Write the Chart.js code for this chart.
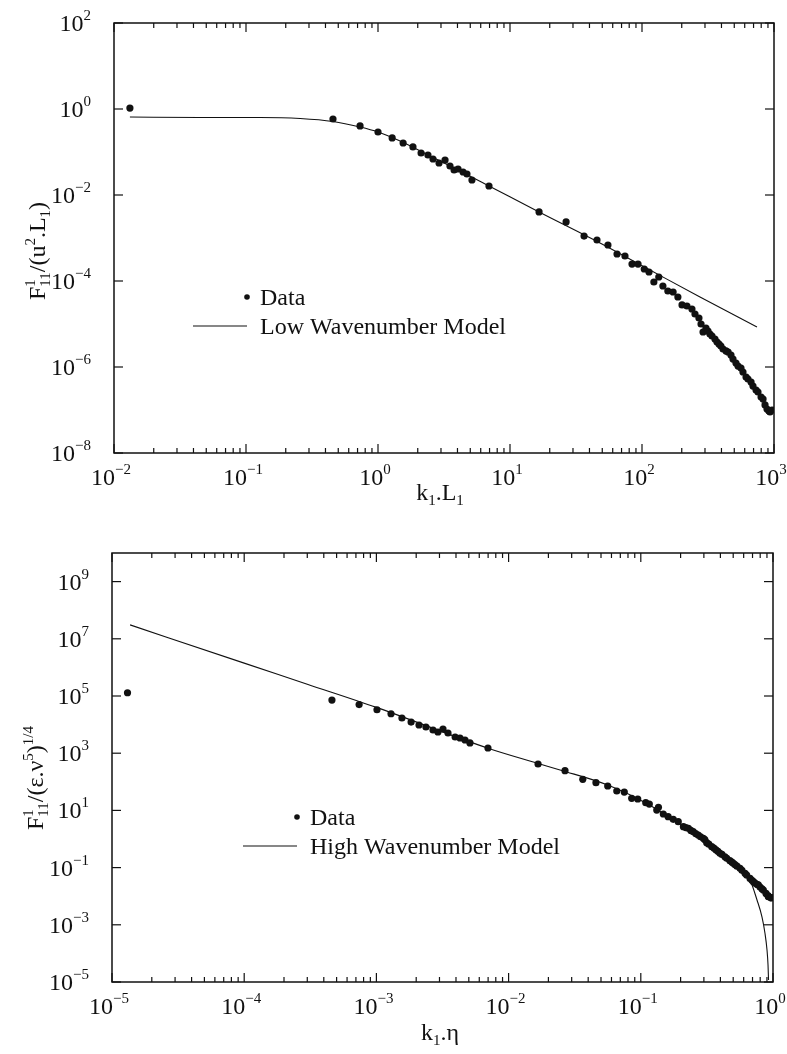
<!DOCTYPE html>
<html>
<head>
<meta charset="utf-8">
<script src="https://cdn.jsdelivr.net/npm/chart.js@4.4.0/dist/chart.umd.min.js"></script>
<style>
  html, body { margin: 0; padding: 0; background: #fff; }
  #wrap { position: relative; width: 787px; height: 1054px; }
  canvas { position: absolute; left: 0; }
  #low { top: 0; }
  #high { top: 505px; }
</style>
</head>
<body>
<div id="wrap">
  <canvas id="low" width="787" height="505"></canvas>
  <canvas id="high" width="787" height="549"></canvas>
</div>
<script>
// one-dimensional spectrum, scaled on integral scale (low) and Kolmogorov scale (high)
const kL1 = [0.0132, 0.456, 0.731, 1.0, 1.28, 1.55, 1.84, 2.12, 2.39, 2.61, 2.90, 3.22, 3.51, 3.77, 4.04, 4.41,
  4.72, 5.15, 6.93, 16.6, 26.6, 36.4, 45.6, 55.2, 64.7, 74.3, 84.0, 93.3, 104, 113, 123, 134, 144, 157, 172,
  187, 201, 219, 239, 252, 270, 280, 290, 305, 316, 327, 339, 357, 370, 383, 396, 411, 433, 449, 472, 489,
  515, 534, 562, 582, 614, 635, 670, 693, 731, 756, 798, 826, 855, 885, 916, 933, 966];
const lowData = [1.05, 0.585, 0.403, 0.292, 0.212, 0.162, 0.131, 0.0948, 0.0851, 0.0687, 0.0555, 0.0652, 0.0472,
  0.0381, 0.0402, 0.0343, 0.0308, 0.0223, 0.0162, 4.03e-3, 2.36e-3, 1.11e-3, 8.98e-4, 6.87e-4, 4.25e-4, 3.81e-4,
  2.48e-4, 2.48e-4, 1.90e-4, 1.62e-4, 9.48e-5, 1.24e-4, 7.66e-5, 5.85e-5, 5.55e-5, 4.25e-5, 2.77e-5, 2.62e-5,
  2.23e-5, 1.71e-5, 1.38e-5, 1.0e-5, 6.52e-6, 8.07e-6, 6.87e-6, 5.85e-6, 5.26e-6, 4.48e-6, 3.81e-6, 3.43e-6,
  3.08e-6, 2.62e-6, 2.36e-6, 2.23e-6, 1.90e-6, 1.53e-6, 1.24e-6, 1.05e-6, 9.48e-7, 7.65e-7, 5.85e-7, 5.26e-7,
  4.48e-7, 3.61e-7, 2.92e-7, 2.62e-7, 2.00e-7, 1.80e-7, 1.31e-7, 1.05e-7, 9.48e-8, 8.98e-8, 1.0e-7];
const kL1Model = [0.0132, 0.0449, 0.128, 0.257, 0.456, 0.731, 1.0, 1.47, 2.48, 4.18, 6.93, 16.6, 48.1, 115, 275, 743];
const lowModel = [0.652, 0.634, 0.634, 0.601, 0.512, 0.381, 0.292, 0.180, 0.0807, 0.0361, 0.0162, 4.03e-3,
  7.66e-4, 1.80e-4, 4.25e-5, 8.51e-6];

const kEta = [1.31e-5, 4.61e-4, 7.4e-4, 1.01e-3, 1.29e-3, 1.56e-3, 1.83e-3, 2.10e-3, 2.37e-3, 2.68e-3, 2.92e-3,
  3.19e-3, 3.48e-3, 3.94e-3, 4.29e-3, 4.68e-3, 5.10e-3, 6.98e-3, 1.67e-2, 2.67e-2, 3.64e-2, 4.58e-2, 5.62e-2,
  6.58e-2, 7.50e-2, 8.53e-2, 9.48e-2, 0.109, 0.116, 0.132, 0.136, 0.148, 0.161, 0.176, 0.192, 0.210, 0.219,
  0.229, 0.239, 0.249, 0.260, 0.272, 0.283, 0.297, 0.305, 0.315, 0.327, 0.344, 0.357, 0.370, 0.383, 0.397,
  0.411, 0.433, 0.447, 0.472, 0.489, 0.501, 0.515, 0.534, 0.563, 0.582, 0.614, 0.632, 0.670, 0.693, 0.710,
  0.731, 0.756, 0.774, 0.798, 0.826, 0.845, 0.885, 0.916, 0.923, 0.933, 0.966, 0.978];
const highData = [1.30e5, 7.2e4, 5.0e4, 3.3e4, 2.4e4, 1.70e4, 1.23e4, 9.69e3, 8.24e3, 6.47e3, 5.51e3, 7.02e3,
  5.08e3, 3.68e3, 3.40e3, 2.90e3, 2.28e3, 1.52e3, 419, 244, 122, 93.1, 71.3, 47.6, 43.9, 26.5, 25.0, 18.6, 16.7,
  10.3, 12.8, 7.48, 6.03, 4.89, 4.03, 2.69, 2.5, 2.37, 2.0, 1.80, 1.55, 1.38, 1.2, 1.06, 0.95, 0.743, 0.66, 0.538,
  0.48, 0.42, 0.37, 0.316, 0.29, 0.24, 0.211, 0.175, 0.155, 0.141, 0.128, 0.112, 0.0946, 0.080, 0.063, 0.0551,
  0.042, 0.036, 0.0321, 0.029, 0.026, 0.0247, 0.021, 0.018, 0.0165, 0.0125, 0.0105, 9.62e-3, 9.5e-3, 8.8e-3, 8.87e-3];
const kEtaModel = [1.37e-5, 1.0e-4, 3.0e-4, 1.0e-3, 6.98e-3, 1.7e-2, 2.45e-2, 5.62e-2, 0.109, 0.210, 0.315,
  0.447, 0.563, 0.632, 0.670, 0.757, 0.826, 0.869, 0.901, 0.917, 0.925];
const highModel = [3.07e7, 1.41e6, 2.58e5, 4.0e4, 1.5e3, 430, 259, 77, 18.2, 2.85, 0.785, 0.235, 0.097, 0.0508,
  0.0368, 7.36e-3, 1.87e-3, 5.17e-4, 1.31e-4, 3.93e-5, 1.17e-5];

// decade exponents that get a tick and a label
const lowXTicks = [-2, -1, 0, 1, 2, 3];
const lowYTicks = [-8, -6, -4, -2, 0, 2];
const highXTicks = [-5, -4, -3, -2, -1, 0];
const highYTicks = [-5, -3, -1, 1, 3, 5, 7, 9];

const SERIF = "'Liberation Serif', 'Times New Roman', serif";
const INK = '#111';

function pairs(xs, ys) {
  return xs.map((x, i) => ({ x: x, y: ys[i] }));
}

// "10" with a raised exponent, anchored on (x, y) = label centre
function drawPow(ctx, e, x, y, align) {
  const base = '10';
  const sup = e < 0 ? '\u2212' + (-e) : String(e);
  ctx.font = '24px ' + SERIF;
  const wb = ctx.measureText(base).width;
  ctx.font = '15px ' + SERIF;
  const ws = ctx.measureText(sup).width;
  let left;
  if (align === 'right') left = x - wb - ws;
  else left = x - (wb + ws) / 2 - 3;
  ctx.textAlign = 'left';
  ctx.textBaseline = 'alphabetic';
  ctx.font = '24px ' + SERIF;
  ctx.fillText(base, left, y + 8);
  ctx.font = '15px ' + SERIF;
  ctx.fillText(sup, left + wb, y - 3);
}

// text with sub/superscripts; parts = [text, kind] or {sup, sub}
function richWidth(ctx, parts, size) {
  let w = 0;
  parts.forEach(p => {
    if (Array.isArray(p)) {
      ctx.font = (p[1] ? Math.round(size * 0.62) : size) + 'px ' + SERIF;
      w += ctx.measureText(p[0]).width;
    } else {
      ctx.font = Math.round(size * 0.62) + 'px ' + SERIF;
      w += Math.max(ctx.measureText(p.sup).width, ctx.measureText(p.sub).width);
    }
  });
  return w;
}

function drawRich(ctx, parts, cx, baseY, size) {
  let x = cx - richWidth(ctx, parts, size) / 2;
  const small = Math.round(size * 0.62) + 'px ' + SERIF;
  ctx.textAlign = 'left';
  ctx.textBaseline = 'alphabetic';
  parts.forEach(p => {
    if (Array.isArray(p)) {
      const [t, kind] = p;
      if (!kind) {
        ctx.font = size + 'px ' + SERIF;
        ctx.fillText(t, x, baseY);
      } else {
        ctx.font = small;
        ctx.fillText(t, x, kind === 'sup' ? baseY - size * 0.42 : baseY + size * 0.22);
      }
      x += ctx.measureText(t).width;
    } else {
      ctx.font = small;
      ctx.fillText(p.sup, x, baseY - size * 0.42);
      ctx.fillText(p.sub, x, baseY + size * 0.22);
      x += Math.max(ctx.measureText(p.sup).width, ctx.measureText(p.sub).width);
    }
  });
}

function seg(ctx, x1, y1, x2, y2) {
  ctx.beginPath();
  ctx.moveTo(x1, y1);
  ctx.lineTo(x2, y2);
  ctx.stroke();
}

// box, inward ticks, labels, axis titles and the key
const framePlugin = {
  id: 'frame',
  afterDraw(chart, args, o) {
    const { ctx, chartArea: a, scales: { x, y } } = chart;
    ctx.save();
    ctx.strokeStyle = INK;
    ctx.fillStyle = INK;

    ctx.lineWidth = 1.5;
    ctx.strokeRect(a.left, a.top, a.right - a.left, a.bottom - a.top);

    ctx.lineWidth = 1.2;
    const xLo = o.xTicks[0], xHi = o.xTicks[o.xTicks.length - 1];
    for (let e = xLo; e <= xHi; e++) {
      for (let m = 1; m <= 9; m++) {
        if (e === xHi && m > 1) break;
        const px = x.getPixelForValue(m * Math.pow(10, e));
        const len = m === 1 ? 9 : 5;
        seg(ctx, px, a.bottom, px, a.bottom - len);
        seg(ctx, px, a.top, px, a.top + len);
      }
    }
    o.yTicks.forEach(e => {
      const py = y.getPixelForValue(Math.pow(10, e));
      seg(ctx, a.left, py, a.left + 9, py);
      seg(ctx, a.right, py, a.right - 9, py);
    });

    o.xTicks.forEach(e => drawPow(ctx, e, x.getPixelForValue(Math.pow(10, e)), a.bottom + 24, 'center'));
    o.yTicks.forEach(e => drawPow(ctx, e, a.left - 23, y.getPixelForValue(Math.pow(10, e)), 'right'));

    drawRich(ctx, o.xTitle, o.xTitlePos[0], o.xTitlePos[1], 24);
    ctx.save();
    ctx.translate(o.yTitlePos[0], o.yTitlePos[1]);
    ctx.rotate(-Math.PI / 2);
    drawRich(ctx, o.yTitle, 0, 0, 24);
    ctx.restore();

    // key
    const k = o.key;
    ctx.beginPath();
    ctx.arc(k.x - 13, k.y, 2.8, 0, Math.PI * 2);
    ctx.fill();
    ctx.lineWidth = 1.1;
    seg(ctx, k.x - 67, k.y + 29, k.x - 13, k.y + 29);
    ctx.font = '24px ' + SERIF;
    ctx.textAlign = 'left';
    ctx.textBaseline = 'alphabetic';
    ctx.fillText('Data', k.x, k.y + 8);
    ctx.fillText(o.modelLabel, k.x, k.y + 37);
    ctx.restore();
  }
};

function spectrumChart(id, pts, model, o) {
  return new Chart(document.getElementById(id), {
    type: 'scatter',
    data: {
      datasets: [
        {
          label: 'Data',
          data: pts,
          pointRadius: 3.6,
          pointBackgroundColor: INK,
          pointBorderColor: INK,
          pointBorderWidth: 0,
          showLine: false
        },
        {
          type: 'line',
          label: o.modelLabel,
          data: model,
          borderColor: INK,
          borderWidth: 1.1,
          pointRadius: 0,
          fill: false,
          cubicInterpolationMode: 'monotone'
        }
      ]
    },
    options: {
      responsive: false,
      animation: false,
      devicePixelRatio: 1,
      layout: { padding: o.pad },
      scales: {
        x: { type: 'logarithmic', min: Math.pow(10, o.xTicks[0]), max: Math.pow(10, o.xTicks[o.xTicks.length - 1]), display: false },
        y: { type: 'logarithmic', min: Math.pow(10, o.yMin), max: Math.pow(10, o.yMax), display: false }
      },
      plugins: {
        legend: { display: false },
        tooltip: { enabled: false },
        frame: o
      }
    },
    plugins: [framePlugin]
  });
}

spectrumChart('low', pairs(kL1, lowData), pairs(kL1Model, lowModel), {
  pad: { left: 114, top: 23, right: 13, bottom: 52 },
  xTicks: lowXTicks,
  yTicks: lowYTicks,
  yMin: -8,
  yMax: 2,
  modelLabel: 'Low Wavenumber Model',
  key: { x: 260, y: 297 },
  xTitle: [['k'], ['1', 'sub'], ['.L'], ['1', 'sub']],
  xTitlePos: [440, 500],
  yTitle: [['F'], { sup: '1', sub: '11' }, ['/(u'], ['2', 'sup'], ['.L'], ['1', 'sub'], [')']],
  yTitlePos: [45, 251]
});

spectrumChart('high', pairs(kEta, highData), pairs(kEtaModel, highModel), {
  pad: { left: 112, top: 48, right: 14, bottom: 72 },
  xTicks: highXTicks,
  yTicks: highYTicks,
  yMin: -5,
  yMax: 10,
  modelLabel: 'High Wavenumber Model',
  key: { x: 310, y: 312 },
  xTitle: [['k'], ['1', 'sub'], ['.\u03b7']],
  xTitlePos: [440, 535],
  yTitle: [['F'], { sup: '1', sub: '11' }, ['/(\u03b5.\u03bd'], ['5', 'sup'], [')'], ['1/4', 'sup']],
  yTitlePos: [43, 273]
});
</script>
</body>
</html>
